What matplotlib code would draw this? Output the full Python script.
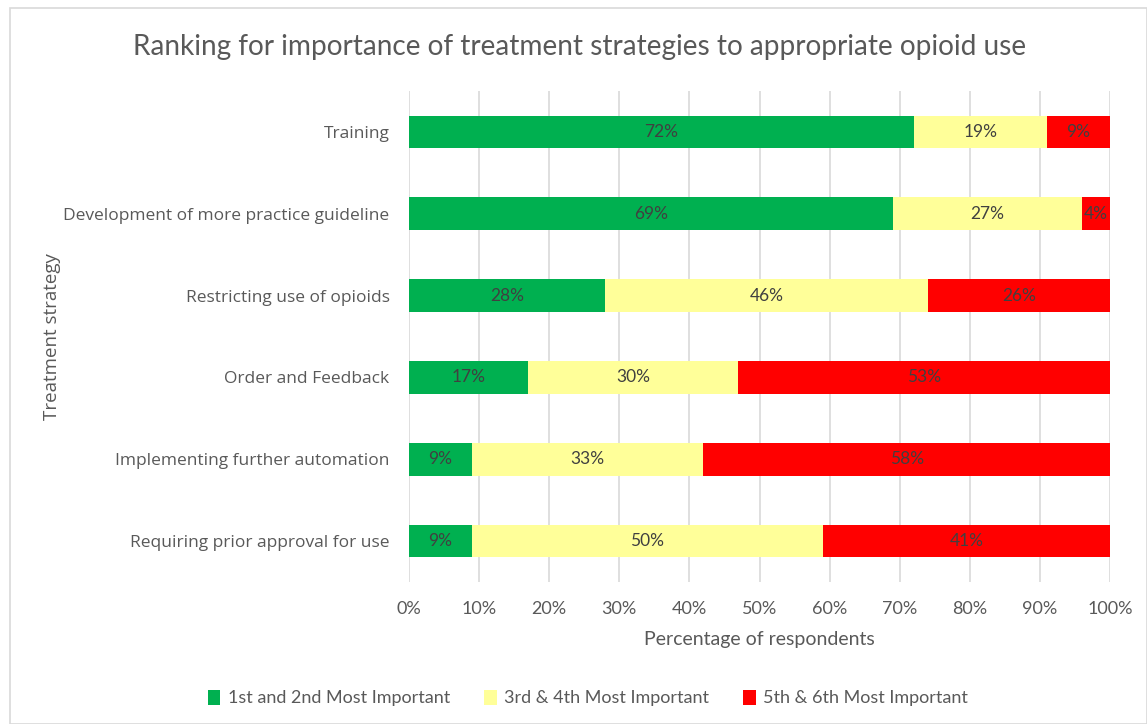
import numpy as np
import matplotlib.pyplot as plt
from matplotlib.patches import Rectangle

categories = ["Training", "Development of more practice guideline", "Restricting use of opioids",
              "Order and Feedback", "Implementing further automation", "Requiring prior approval for use"]
top_two = [72, 69, 28, 17, 9, 9]
mid_two = [19, 27, 46, 30, 33, 50]
low_two = [9, 4, 26, 53, 58, 41]
series_names = ["1st and 2nd Most Important", "3rd & 4th Most Important", "5th & 6th Most Important"]
colors = ["#00B050", "#FFFF99", "#FF0000"]
xticks = np.arange(0, 101, 10)

txt = "#595959"
plt.rcParams['font.family'] = ['Lato', 'DejaVu Sans']

fig = plt.figure(figsize=(11.47, 7.24), dpi=100)
fig.patches.append(Rectangle((10 / 1147, 0), 1 - 10 / 1147, 1 - 8 / 724, transform=fig.transFigure,
                             fill=False, edgecolor="#D9D9D9", linewidth=1.2))
ax = fig.add_axes([409 / 1147, 1 - 582 / 724, 701 / 1147, 491 / 724])

y = np.arange(len(categories))
left = np.zeros(len(categories))
for vals, name, c in zip([top_two, mid_two, low_two], series_names, colors):
    vals = np.array(vals, dtype=float)
    ax.barh(y, vals, left=left, height=0.4, color=c, label=name, zorder=3)
    for yi, l, v in zip(y, left, vals):
        ax.text(l + v / 2, yi, f"{int(v)}%", ha="center", va="center", fontsize=12.5, color="#404040", zorder=4)
    left += vals

ax.set_xlim(0, 100)
ax.set_ylim(len(categories) - 0.5, -0.5)
ax.set_yticks(y)
ax.set_yticklabels(categories, fontsize=12.5, color=txt, family=['Open Sans', 'DejaVu Sans'])
ax.set_xticks(xticks)
ax.set_xticklabels([f"{t}%" for t in xticks], fontsize=13, color=txt)
ax.tick_params(length=0, pad=14)
ax.tick_params(axis='y', pad=14)
ax.grid(axis='x', color="#D9D9D9", linewidth=1.2, zorder=0)
for s in ax.spines.values():
    s.set_visible(False)

ax.set_xlabel("Percentage of respondents", fontsize=14, color=txt, labelpad=10)
fig.text(52 / 1147, 1 - 337 / 724, "Treatment strategy", rotation=90, ha="center", va="center",
         fontsize=13.5, color=txt, family=['Open Sans', 'DejaVu Sans'])
fig.text(580 / 1147, 1 - 47 / 724, "Ranking for importance of treatment strategies to appropriate opioid use",
         ha="center", va="center", fontsize=20.2, color=txt)

leg = fig.legend(loc="center", bbox_to_anchor=(588 / 1147, 1 - 698 / 724), ncol=3, frameon=False,
                 fontsize=13, handlelength=0.7, handleheight=0.9, handletextpad=0.4, columnspacing=1.9)
for t in leg.get_texts():
    t.set_color(txt)

fig.savefig("out.png", dpi=100)
